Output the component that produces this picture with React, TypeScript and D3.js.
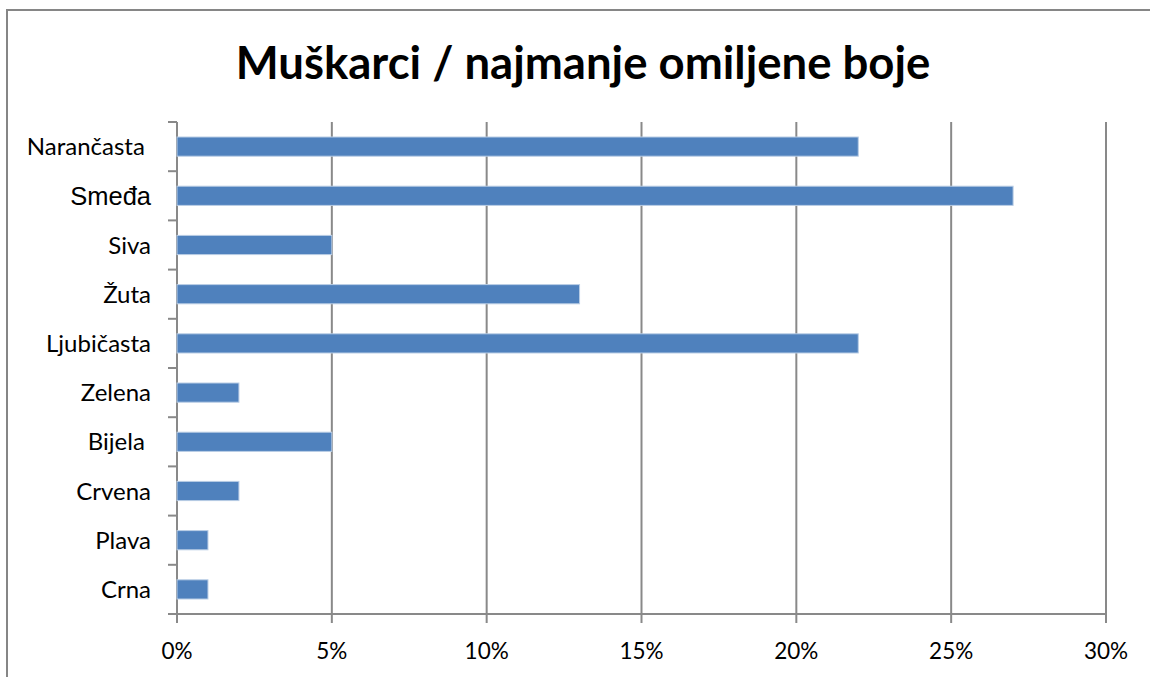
import React from "react";
import * as d3 from "d3";

const categories = ["Narančasta ", "Smeđa", "Siva", "Žuta", "Ljubičasta", "Zelena", "Bijela ", "Crvena", "Plava", "Crna"];
const values = [22, 27, 5, 13, 22, 2, 5, 2, 1, 1];
const xTicks = [0, 5, 10, 15, 20, 25, 30];
const title = "Muškarci / najmanje omiljene boje";

const W = 1150;
const H = 677;
const left = 177;
const right = 1106;
const top = 122;
const bottom = 614;
const font = "Lato, 'Open Sans', sans-serif";
const grid = "#898989";

export default function App() {
  const x = d3.scaleLinear().domain([0, 30]).range([left, right]);
  const y = d3.scaleBand<string>().domain(categories).range([top, bottom]).paddingInner(0.61).paddingOuter(0.305);
  const bandStep = (bottom - top) / categories.length;
  return (
    <svg width={W} height={H} style={{ position: "absolute", left: 0, top: 0, background: "#fff" }}>
      <rect x={7} y={10} width={W + 20} height={H + 20} fill="#fff" stroke="#868686" strokeWidth={2} />
      <text x={583} y={79} textAnchor="middle" fontFamily={font} fontWeight={700} fontSize={45.5} fill="#000">
        {title}
      </text>
      {xTicks.map((t) => (
        <line key={"g" + t} x1={x(t)} x2={x(t)} y1={top} y2={bottom + 9} stroke={grid} strokeWidth={2} />
      ))}
      <line x1={left - 1} x2={right + 1} y1={bottom} y2={bottom} stroke={grid} strokeWidth={2} />
      {d3.range(categories.length + 1).map((i) => (
        <line key={"yt" + i} x1={left - 9} x2={left} y1={top + i * bandStep} y2={top + i * bandStep} stroke={grid} strokeWidth={2} />
      ))}
      {categories.map((c, i) => (
        <rect
          key={c}
          x={x(0)}
          y={y(c)!}
          width={x(values[i]) - x(0)}
          height={y.bandwidth()}
          fill="#4F81BD"
          stroke="#B9CDE5"
          strokeWidth={1}
        />
      ))}
      {categories.map((c) => {
        const isArial = c === "Smeđa";
        return (
          <text
            key={"l" + c}
            x={151}
            y={y(c)! + y.bandwidth() / 2}
            dy="0.36em"
            textAnchor="end"
            fontFamily={isArial ? "'Liberation Sans', Arial, sans-serif" : font}
            fontSize={isArial ? 25.5 : 24}
            fill="#000"
            style={{ whiteSpace: "pre" }}
          >
            {c}
          </text>
        );
      })}
      {xTicks.map((t) => (
        <text key={"xl" + t} x={x(t)} y={659} textAnchor="middle" fontFamily={font} fontSize={22.5} fill="#000">
          {t + "%"}
        </text>
      ))}
    </svg>
  );
}
